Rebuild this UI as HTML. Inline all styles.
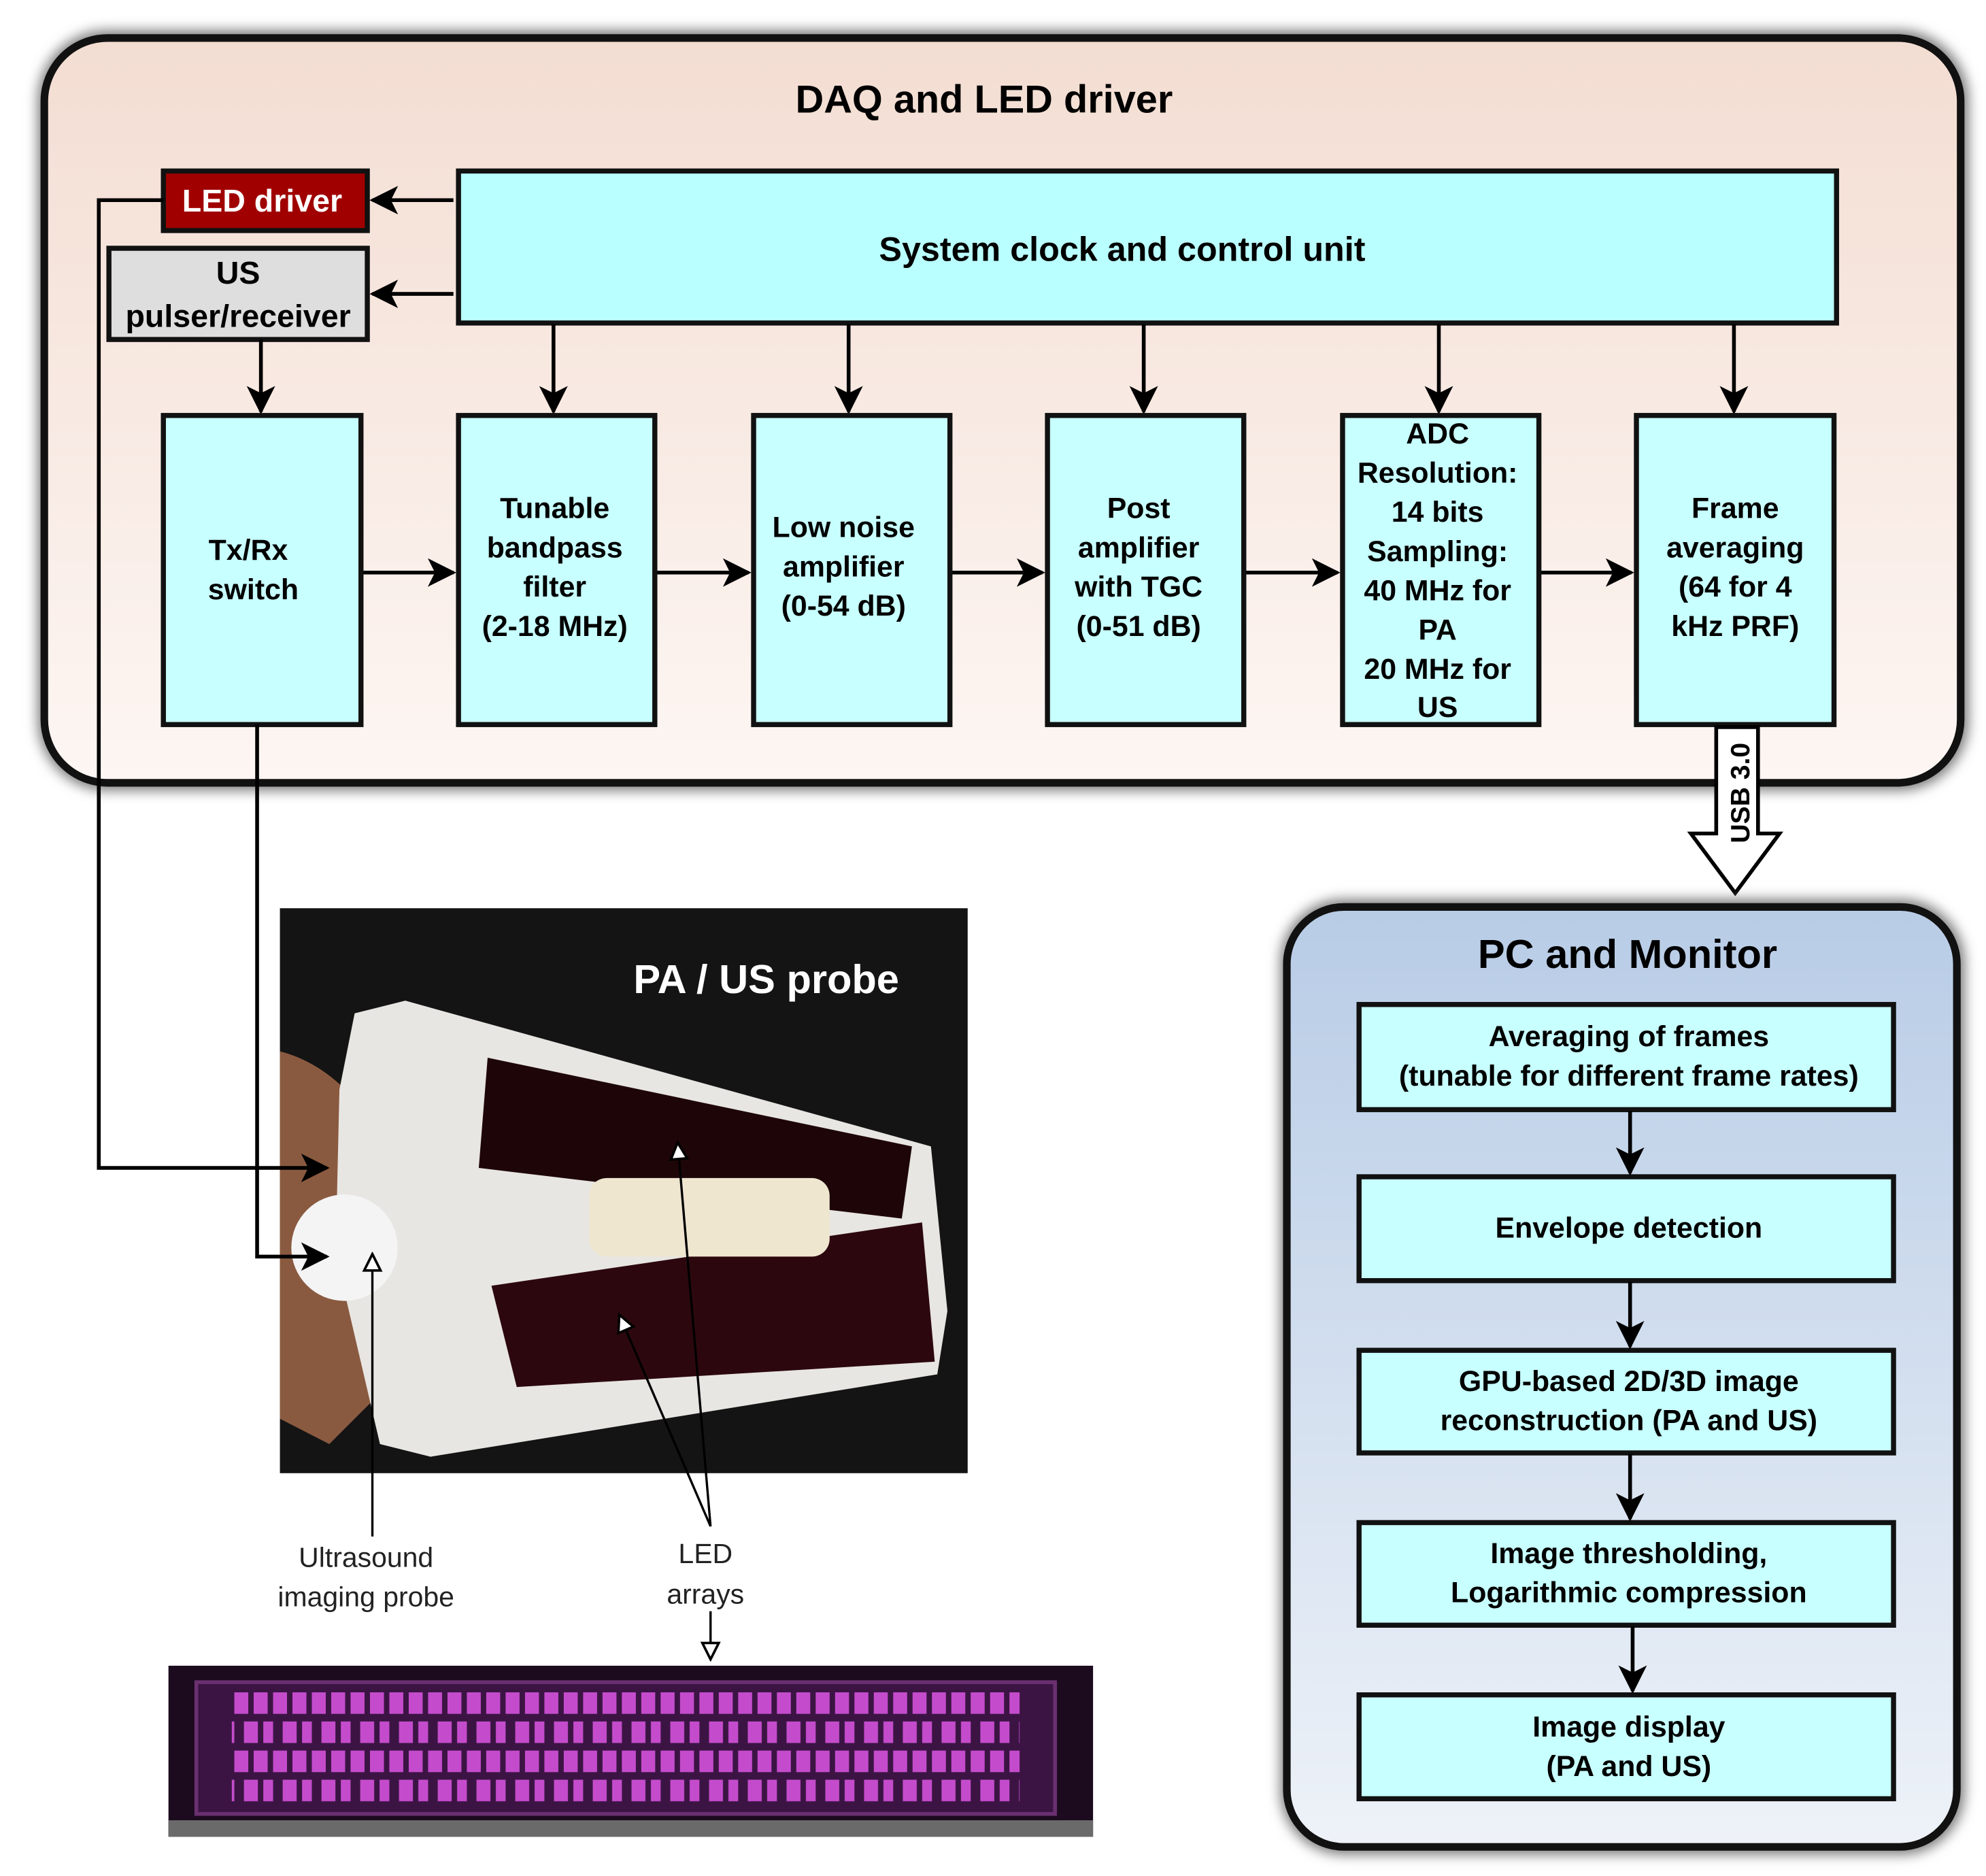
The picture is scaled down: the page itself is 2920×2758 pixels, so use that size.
<!DOCTYPE html>
<html><head><meta charset="utf-8"><style>
html,body{margin:0;padding:0;background:#fff}
svg{display:block}
text{font-family:"Liberation Sans",sans-serif}
.b{font-weight:bold}
</style></head><body>
<svg width="2920" height="2758" viewBox="0 0 1568 1481" preserveAspectRatio="none" xmlns="http://www.w3.org/2000/svg">
<defs>
<linearGradient id="daq" x1="0" y1="0" x2="0" y2="1"><stop offset="0" stop-color="#f3ddd2"/><stop offset="1" stop-color="#fdf6f3"/></linearGradient>
<linearGradient id="pc" x1="0" y1="0" x2="0" y2="1"><stop offset="0" stop-color="#b8cce6"/><stop offset="1" stop-color="#eef2f8"/></linearGradient>
<marker id="ah" viewBox="0 0 10 10" refX="9" refY="5" markerWidth="7.5" markerHeight="7.5" orient="auto"><path d="M0,0 L10,5 L0,10 L2.5,5 z" fill="#000"/></marker>
<marker id="ht" viewBox="0 0 10 10" refX="9" refY="5" markerWidth="9" markerHeight="9" orient="auto"><path d="M1,1 L9,5 L1,9 z" fill="#fff" stroke="#000" stroke-width="1.2"/></marker>
<filter id="sh" x="-5%" y="-5%" width="110%" height="110%"><feGaussianBlur stdDeviation="5"/></filter>
<pattern id="leds" x="185" y="1336" width="30.6" height="46" patternUnits="userSpaceOnUse">
<rect x="0" y="0" width="11" height="17" fill="#c44ccc"/><rect x="15.3" y="0" width="11" height="17" fill="#c44ccc"/>
<rect x="7.6" y="23" width="11" height="17" fill="#c44ccc"/><rect x="22.9" y="23" width="7.7" height="17" fill="#c44ccc"/>
</pattern>
</defs>

<rect x="30" y="24" width="1524" height="600" rx="55" fill="#777" filter="url(#sh)"/>
<rect x="35" y="30" width="1513" height="588" rx="50" fill="url(#daq)" stroke="#111" stroke-width="6"/>
<text x="777" y="89" text-anchor="middle" class="b" font-size="31">DAQ and LED driver</text>

<rect x="362" y="135" width="1088" height="120" fill="#baffff" stroke="#111" stroke-width="4"/>
<text x="886" y="206" text-anchor="middle" class="b" font-size="27">System clock and control unit</text>

<rect x="129" y="135" width="161" height="47" fill="#a00000" stroke="#111" stroke-width="4"/>
<text x="207" y="167" text-anchor="middle" class="b" font-size="25" fill="#fff">LED driver</text>
<rect x="86" y="196" width="204" height="72" fill="#dedede" stroke="#111" stroke-width="4"/>
<text x="188" y="224" text-anchor="middle" class="b" font-size="25">US</text>
<text x="188" y="258" text-anchor="middle" class="b" font-size="25">pulser/receiver</text>

<g stroke="#000" stroke-width="3" fill="none" marker-end="url(#ah)">
<line x1="358" y1="158" x2="294" y2="158"/>
<line x1="358" y1="232" x2="294" y2="232"/>
<line x1="206" y1="268" x2="206" y2="325"/>
<line x1="437" y1="256" x2="437" y2="325"/>
<line x1="670" y1="256" x2="670" y2="325"/>
<line x1="903" y1="256" x2="903" y2="325"/>
<line x1="1136" y1="256" x2="1136" y2="325"/>
<line x1="1369" y1="256" x2="1369" y2="325"/>
<line x1="286" y1="452" x2="358" y2="452"/>
<line x1="518" y1="452" x2="591" y2="452"/>
<line x1="751" y1="452" x2="823" y2="452"/>
<line x1="983" y1="452" x2="1056" y2="452"/>
<line x1="1216" y1="452" x2="1288" y2="452"/>
</g>

<g fill="#c8ffff" stroke="#111" stroke-width="4">
<rect x="129" y="328" width="156" height="244"/>
<rect x="362" y="328" width="155" height="244"/>
<rect x="595" y="328" width="155" height="244"/>
<rect x="827" y="328" width="155" height="244"/>
<rect x="1060" y="328" width="155" height="244"/>
<rect x="1292" y="328" width="156" height="244"/>
</g>
<g class="b" font-size="23" text-anchor="middle">
<text x="196" y="442">Tx/Rx</text><text x="200" y="473">switch</text>
<text x="438" y="409">Tunable</text><text x="438" y="440">bandpass</text><text x="438" y="471">filter</text><text x="438" y="502">(2-18 MHz)</text>
<text x="666" y="424">Low noise</text><text x="666" y="455">amplifier</text><text x="666" y="486">(0-54 dB)</text>
<text x="899" y="409">Post</text><text x="899" y="440">amplifier</text><text x="899" y="471">with TGC</text><text x="899" y="502">(0-51 dB)</text>
<text x="1135" y="350">ADC</text><text x="1135" y="381">Resolution:</text><text x="1135" y="412">14 bits</text><text x="1135" y="443">Sampling:</text><text x="1135" y="474">40 MHz for</text><text x="1135" y="505">PA</text><text x="1135" y="536">20 MHz for</text><text x="1135" y="566">US</text>
<text x="1370" y="409">Frame</text><text x="1370" y="440">averaging</text><text x="1370" y="471">(64 for 4</text><text x="1370" y="502">kHz PRF)</text>
</g>

<path d="M1355,574 L1388,574 L1388,658 L1405,658 L1370,705 L1335,658 L1355,658 Z" fill="#fff" stroke="#000" stroke-width="3"/>
<text transform="translate(1381,626) rotate(-90)" text-anchor="middle" class="b" font-size="21">USB 3.0</text>

<rect x="1011" y="710" width="540" height="754" rx="50" fill="#777" filter="url(#sh)"/>
<rect x="1016" y="716" width="529" height="742" rx="45" fill="url(#pc)" stroke="#111" stroke-width="6"/>
<text x="1285" y="764" text-anchor="middle" class="b" font-size="32">PC and Monitor</text>
<g fill="#c8ffff" stroke="#111" stroke-width="4">
<rect x="1073" y="793" width="422" height="83"/>
<rect x="1073" y="929" width="422" height="82"/>
<rect x="1073" y="1066" width="422" height="81"/>
<rect x="1073" y="1202" width="422" height="81"/>
<rect x="1073" y="1338" width="422" height="82"/>
</g>
<g stroke="#000" stroke-width="3" marker-end="url(#ah)">
<line x1="1287" y1="877" x2="1287" y2="926"/>
<line x1="1287" y1="1012" x2="1287" y2="1063"/>
<line x1="1287" y1="1148" x2="1287" y2="1199"/>
<line x1="1289" y1="1284" x2="1289" y2="1335"/>
</g>
<g class="b" font-size="23" text-anchor="middle">
<text x="1286" y="826">Averaging of frames</text><text x="1286" y="857">(tunable for different frame rates)</text>
<text x="1286" y="977">Envelope detection</text>
<text x="1286" y="1098">GPU-based 2D/3D image</text><text x="1286" y="1129">reconstruction (PA and US)</text>
<text x="1286" y="1234">Image thresholding,</text><text x="1286" y="1265">Logarithmic compression</text>
<text x="1286" y="1371">Image display</text><text x="1286" y="1402">(PA and US)</text>
</g>

<rect x="221" y="717" width="543" height="446" fill="#141414"/>
<path d="M221,830 Q260,840 290,880 L300,1100 L260,1140 L221,1120 Z" fill="#8a5a40"/>
<path d="M280,800 L320,790 L735,905 L748,1035 L740,1085 L340,1150 L300,1140 L265,990 L268,860 Z" fill="#e8e6e2"/>
<path d="M385,835 L720,905 L712,962 L378,922 Z" fill="#1e0608"/>
<path d="M388,1015 L728,965 L738,1075 L408,1095 Z" fill="#2c080e"/>
<rect x="465" y="930" width="190" height="62" rx="14" fill="#efe6d0"/>
<ellipse cx="272" cy="985" rx="42" ry="42" fill="#f4f4f4"/>
<text x="605" y="784" text-anchor="middle" class="b" font-size="32" fill="#fff">PA / US probe</text>

<g stroke="#000" stroke-width="3" fill="none" marker-end="url(#ah)">
<polyline points="129,158 78,158 78,922 258,922"/>
<polyline points="203,572 203,992 258,992"/>
</g>

<g stroke="#000" stroke-width="1.8" fill="none" marker-end="url(#ht)">
<line x1="294" y1="1213" x2="294" y2="990"/>
<line x1="561" y1="1205" x2="535" y2="902"/>
<line x1="561" y1="1205" x2="489" y2="1038"/>
<line x1="561" y1="1272" x2="561" y2="1310"/>
</g>
<g font-size="22" text-anchor="middle" fill="#222">
<text x="289" y="1237">Ultrasound</text><text x="289" y="1268">imaging probe</text>
<text x="557" y="1234">LED</text><text x="557" y="1266">arrays</text>
</g>

<rect x="133" y="1315" width="730" height="135" fill="#1c0a1e"/>
<rect x="133" y="1437" width="730" height="13" fill="#6a6a6a"/>
<rect x="155" y="1328" width="678" height="104" fill="#3c1444" stroke="#6a3070" stroke-width="3"/>
<rect x="183" y="1336" width="622" height="88" fill="url(#leds)"/>
</svg>
</body></html>
